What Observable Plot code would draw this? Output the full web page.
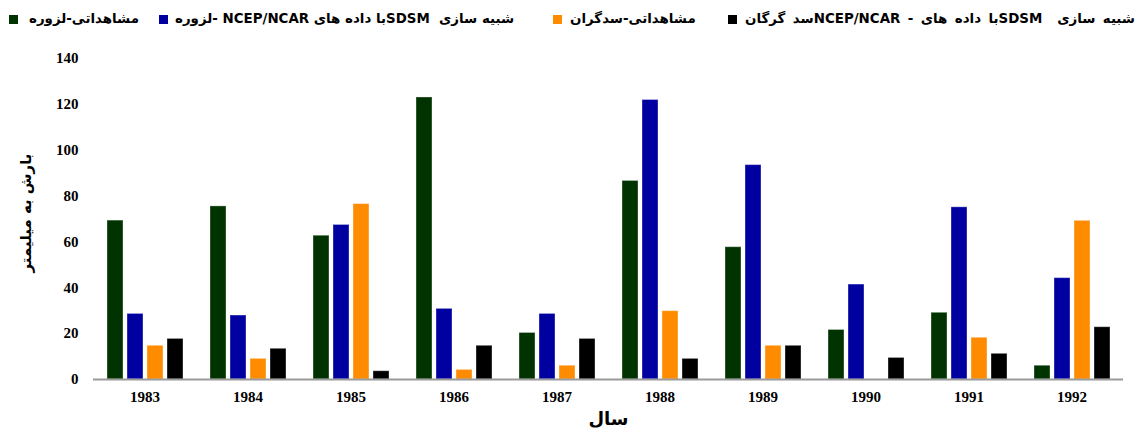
<!DOCTYPE html>
<html>
<head>
<meta charset="utf-8">
<script src="https://cdn.jsdelivr.net/npm/d3@7"></script>
<script src="https://cdn.jsdelivr.net/npm/@observablehq/plot@0.6"></script>
<style>
  html, body { margin: 0; padding: 0; background: #fff; }
  #wrap { width: 1141px; height: 428px; position: relative; overflow: hidden; }
  #legend { position: relative; height: 38px; width: 1141px; font-family: Tahoma, "DejaVu Sans", sans-serif; font-weight: bold; font-size: 13.4px; color: #000; }
  .sw { position: absolute; top: 15px; width: 9px; height: 9px; }
  .lt { position: absolute; top: 10px; white-space: pre; unicode-bidi: isolate; direction: rtl; line-height: 18px; }
</style>
</head>
<body>
<div id="wrap">
  <div id="legend"></div>
  <div id="chart"></div>
</div>
<script>
const years = ["1983", "1984", "1985", "1986", "1987", "1988", "1989", "1990", "1991", "1992"];
const series = [
  "مشاهداتی-لزوره",
  "شبیه سازی  SDSMبا داده های NCEP/NCAR -لزوره",
  "مشاهداتی-سدگران",
  "شبیه سازی  SDSMبا داده های - NCEP/NCARسد گرگان"
];
const colors = ["#003300", "#0000A0", "#FF8C00", "#000000"];
const lazvarehObserved = [69.3, 75.5, 62.7, 123.0, 20.3, 86.6, 57.7, 21.6, 29.1, 6.0];
const lazvarehSimulated = [28.6, 27.9, 67.4, 30.8, 28.6, 121.9, 93.5, 41.4, 75.1, 44.2];
const gorganObserved = [14.7, 9.0, 76.5, 4.2, 6.0, 29.8, 14.7, 0, 18.2, 69.2];
const gorganSimulated = [17.7, 13.4, 3.6, 14.7, 17.7, 9.0, 14.7, 9.4, 11.2, 22.8];
const yTicks = [0, 20, 40, 60, 80, 100, 120, 140];
const yLabel = "بارش به میلیمتر";
const xLabel = "سال";

const valueSets = [lazvarehObserved, lazvarehSimulated, gorganObserved, gorganSimulated];
const data = [];
years.forEach((yr, i) => {
  series.forEach((s, j) => data.push({year: yr, series: s, value: valueSets[j][i]}));
});

// legend
const legendX = [[9, 29], [159, 175], [553, 570], [728, 745]];
const legendW = [108, 325, 125, 390];
const legend = document.getElementById("legend");
series.forEach((s, j) => {
  const sw = document.createElement("div");
  sw.className = "sw";
  sw.style.left = legendX[j][0] + "px";
  sw.style.background = colors[j];
  legend.appendChild(sw);
  const t = document.createElement("span");
  t.className = "lt";
  t.style.left = legendX[j][1] + "px";
  t.textContent = s;
  legend.appendChild(t);
  // spread words slightly so the entry spans the same width as in the source
  const w = t.getBoundingClientRect().width;
  const gaps = (s.match(/ /g) || []).length;
  if (gaps > 0 && w < legendW[j]) t.style.wordSpacing = ((legendW[j] - w) / gaps) + "px";
});

const chart = Plot.plot({
  width: 1141,
  height: 390,
  marginTop: 20,
  marginBottom: 49,
  marginLeft: 92,
  marginRight: 18,
  style: {fontFamily: "'Liberation Serif', serif", fontWeight: "bold", fontSize: "15px", color: "#000", background: "#fff", overflow: "visible"},
  fx: {domain: years, padding: 0, label: xLabel, labelAnchor: "center", labelOffset: 45, tickSize: 0, tickPadding: 12},
  x: {domain: series, axis: null, paddingInner: 0.22, paddingOuter: 0.675},
  y: {domain: [0, 140], ticks: yTicks, tickSize: 0, tickPadding: 15, label: yLabel, labelAnchor: "center", labelOffset: 73, labelArrow: "none"},
  color: {domain: series, range: colors},
  marks: [
    Plot.barY(data, {fx: "year", x: "series", y: "value", fill: "series", stroke: "#ffffff", strokeOpacity: 0.35, strokeWidth: 1}),
    Plot.ruleY([0], {stroke: "#9a9a9a", strokeWidth: 2})
  ]
});
document.getElementById("chart").appendChild(chart);

// axis title fonts
d3.select(chart).selectAll("[aria-label='y-axis label'] text, [aria-label='fx-axis label'] text")
  .style("font-family", "Tahoma, 'DejaVu Sans', sans-serif");
d3.select(chart).selectAll("[aria-label='y-axis label'] text").style("font-size", "15px").attr("dx", 6);
d3.select(chart).selectAll("[aria-label='fx-axis label'] text").style("font-size", "18px");
</script>
</body>
</html>
